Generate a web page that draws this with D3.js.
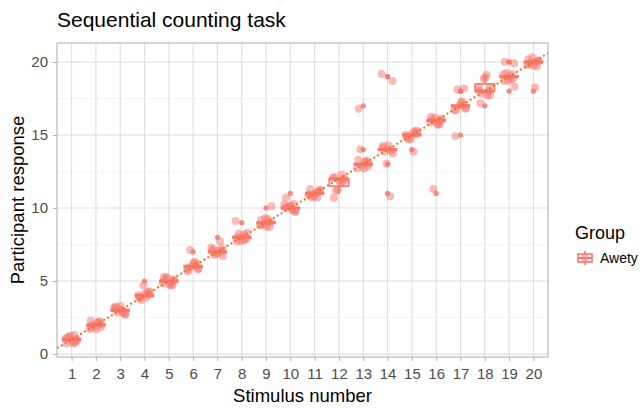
<!DOCTYPE html>
<html lang="en">
<head>
  <meta charset="UTF-8">
  <title>Sequential counting task</title>
  <script src="https://d3js.org/d3.v7.min.js"></script>
</head>
<body style="margin: 0; overflow: hidden; background: #fff;">

<script>
  // stimulus numbers shown on the x axis
  const stimuli = d3.range(1, 21);

  // participant responses per stimulus (11 participants each)
  const responses = [
    [1, 1, 1, 1, 1, 1, 1, 1, 1, 1, 1],
    [2, 2, 2, 2, 2, 2, 2, 2, 2, 2, 2],
    [3, 3, 3, 3, 3, 3, 3, 3, 3, 3, 3],
    [4, 4, 4, 4, 5, 4, 4, 4, 4, 4, 4],
    [5, 5, 5, 5, 5, 5, 5, 5, 5, 5, 5],
    [6, 6, 7, 6, 6, 6, 6, 6, 6, 6, 6],
    [7, 7, 7, 8, 7, 7, 7, 7, 7, 7, 7],
    [8, 8, 8, 8, 8, 9, 8, 8, 8, 8, 8],
    [9, 10, 9, 9, 9, 9, 9, 9, 9, 9, 9],
    [10, 10, 10, 10, 10, 10, 11, 10, 10, 10, 10],
    [11, 11, 11, 11, 11, 11, 11, 11, 11, 11, 11],
    [12, 12, 11, 12, 12, 12, 11, 12, 12, 11, 12],
    [13, 13, 13, 14, 13, 13, 13, 13, 17, 13, 13],
    [14, 19, 14, 14, 11, 14, 14, 13, 14, 19, 14],
    [15, 15, 15, 15, 15, 15, 15, 14, 15, 15, 15],
    [16, 16, 16, 16, 16, 11, 16, 16, 16, 16, 16],
    [17, 17, 18, 17, 17, 15, 17, 17, 18, 17, 17],
    [18, 19, 18, 18, 17, 18, 19, 18, 18, 19, 18],
    [19, 20, 19, 19, 18, 19, 19, 19, 20, 19, 19],
    [20, 20, 20, 18, 20, 20, 20, 20, 20, 20, 20]
  ];

  // fixed jitter offsets (x, y) in data units, reused round the groups
  const jitterX = [-0.18, 0.15, -0.04, 0.22, -0.25, 0.07, -0.12, 0.2, 0.02, -0.21, 0.11];
  const jitterY = [0.12, -0.2, 0.25, -0.08, 0.05, -0.28, 0.18, 0.02, -0.15, -0.3, 0.3];

  const yTicks = [0, 5, 10, 15, 20];
  const yMinor = [2.5, 7.5, 12.5, 17.5];

  const groupName = 'Awety';
  const colour = '#F8766D';
  const lineColour = '#E8761E';

  const width = 643, height = 408;
  const panel = { left: 57, right: 548, top: 43, bottom: 357 };

  const svg = d3.select('body').append('svg')
    .attr('width', width)
    .attr('height', height)
    .style('font-family', 'Liberation Sans, Arial, sans-serif');

  const x = d3.scaleLinear().domain([0.4, 20.6]).range([panel.left, panel.right]);
  const y = d3.scaleLinear().domain([-0.2, 21.3]).range([panel.bottom, panel.top]);

  //Title
  svg.append('text')
    .attr('x', panel.left)
    .attr('y', 27)
    .attr('font-size', 21)
    .attr('fill', '#000')
    .text('Sequential counting task');

  //Grid lines
  const grid = svg.append('g');
  grid.selectAll('.minor').data(yMinor).join('line')
    .attr('x1', panel.left).attr('x2', panel.right)
    .attr('y1', d => y(d)).attr('y2', d => y(d))
    .attr('stroke', '#efefef').attr('stroke-width', 0.6);
  grid.selectAll('.majorY').data(yTicks).join('line')
    .attr('x1', panel.left).attr('x2', panel.right)
    .attr('y1', d => y(d)).attr('y2', d => y(d))
    .attr('stroke', '#dedede').attr('stroke-width', 1.1);
  grid.selectAll('.majorX').data(stimuli).join('line')
    .attr('y1', panel.top).attr('y2', panel.bottom)
    .attr('x1', d => x(d)).attr('x2', d => x(d))
    .attr('stroke', '#dedede').attr('stroke-width', 1.1);

  //Axes
  const xAxis = svg.append('g')
    .attr('transform', `translate(0,${panel.bottom})`)
    .call(d3.axisBottom(x).tickValues(stimuli).tickSize(4).tickPadding(7).tickFormat(d3.format('d')));
  const yAxis = svg.append('g')
    .attr('transform', `translate(${panel.left},0)`)
    .call(d3.axisLeft(y).tickValues(yTicks).tickSize(4).tickPadding(5));
  [xAxis, yAxis].forEach(a => {
    a.select('.domain').remove();
    a.selectAll('line').attr('stroke', '#b3b3b3');
    a.selectAll('text').attr('fill', '#4d4d4d').attr('font-size', 15)
      .style('font-family', 'Liberation Sans, Arial, sans-serif');
  });

  //Axis titles
  svg.append('text')
    .attr('x', (panel.left + panel.right) / 2)
    .attr('y', 402)
    .attr('text-anchor', 'middle')
    .attr('font-size', 18.5)
    .text('Stimulus number');
  svg.append('text')
    .attr('transform', `translate(24,${(panel.top + panel.bottom) / 2}) rotate(-90)`)
    .attr('text-anchor', 'middle')
    .attr('font-size', 18.5)
    .text('Participant response');

  svg.append('clipPath').attr('id', 'panel-clip')
    .append('rect')
    .attr('x', panel.left).attr('y', panel.top)
    .attr('width', panel.right - panel.left).attr('height', panel.bottom - panel.top);

  const plot = svg.append('g').attr('clip-path', 'url(#panel-clip)');

  //Boxplot stats (R type 7 quantiles, whiskers at 1.5 IQR)
  const boxes = stimuli.map((s, i) => {
    const v = responses[i].slice().sort(d3.ascending);
    const q1 = d3.quantile(v, 0.25), med = d3.quantile(v, 0.5), q3 = d3.quantile(v, 0.75);
    const iqr = q3 - q1;
    const inside = v.filter(d => d >= q1 - 1.5 * iqr && d <= q3 + 1.5 * iqr);
    return {
      s, q1, med, q3,
      lo: d3.min(inside), hi: d3.max(inside),
      out: v.filter(d => d < q1 - 1.5 * iqr || d > q3 + 1.5 * iqr)
    };
  });

  const boxHalf = 0.4;
  const bg = plot.selectAll('.box').data(boxes).join('g');
  bg.append('line')
    .attr('x1', d => x(d.s)).attr('x2', d => x(d.s))
    .attr('y1', d => y(d.hi)).attr('y2', d => y(d.q3))
    .attr('stroke', colour).attr('stroke-width', 1.6);
  bg.append('line')
    .attr('x1', d => x(d.s)).attr('x2', d => x(d.s))
    .attr('y1', d => y(d.q1)).attr('y2', d => y(d.lo))
    .attr('stroke', colour).attr('stroke-width', 1.6);
  bg.append('rect')
    .attr('x', d => x(d.s - boxHalf))
    .attr('width', d => x(d.s + boxHalf) - x(d.s - boxHalf))
    .attr('y', d => y(d.q3))
    .attr('height', d => Math.max(0, y(d.q1) - y(d.q3)))
    .attr('fill', '#fff').attr('stroke', colour).attr('stroke-width', 1.6);
  bg.append('line')
    .attr('x1', d => x(d.s - boxHalf)).attr('x2', d => x(d.s + boxHalf))
    .attr('y1', d => y(d.med)).attr('y2', d => y(d.med))
    .attr('stroke', colour).attr('stroke-width', 3.2);
  bg.selectAll('.out').data(d => d.out.map(v => ({ s: d.s, v }))).join('circle')
    .attr('cx', d => x(d.s)).attr('cy', d => y(d.v))
    .attr('r', 2.6).attr('fill', colour).attr('opacity', 0.85);

  //Jittered points
  const pts = [];
  stimuli.forEach((s, i) => {
    responses[i].forEach((v, j) => {
      const k = (j + i * 3) % jitterX.length;
      pts.push({ s, v, dx: jitterX[k], dy: jitterY[(k + i) % jitterY.length] });
    });
  });
  plot.selectAll('.pt').data(pts).join('circle')
    .attr('cx', d => x(d.s + d.dx))
    .attr('cy', d => y(d.v + d.dy))
    .attr('r', 4)
    .attr('fill', colour)
    .attr('opacity', 0.5);

  //Identity line
  plot.append('line')
    .attr('x1', x(0.4)).attr('y1', y(0.4))
    .attr('x2', x(21.3)).attr('y2', y(21.3))
    .attr('stroke', lineColour)
    .attr('stroke-width', 2)
    .attr('stroke-dasharray', '2,2.5');

  //Panel border
  svg.append('rect')
    .attr('x', panel.left).attr('y', panel.top)
    .attr('width', panel.right - panel.left).attr('height', panel.bottom - panel.top)
    .attr('fill', 'none').attr('stroke', '#b3b3b3').attr('stroke-width', 1.1);

  //Legend
  const legend = svg.append('g').attr('transform', 'translate(575,0)');
  legend.append('text')
    .attr('x', 0).attr('y', 239)
    .attr('font-size', 18)
    .text('Group');
  const key = legend.append('g').attr('transform', 'translate(10,258)');
  key.append('line').attr('x1', 0).attr('x2', 0).attr('y1', -7).attr('y2', 7)
    .attr('stroke', colour).attr('stroke-width', 1.6);
  key.append('rect').attr('x', -7).attr('y', -4).attr('width', 14).attr('height', 8)
    .attr('fill', '#fff').attr('stroke', colour).attr('stroke-width', 1.6);
  key.append('line').attr('x1', -7).attr('x2', 7).attr('y1', 0).attr('y2', 0)
    .attr('stroke', colour).attr('stroke-width', 2);
  key.append('circle').attr('r', 4).attr('fill', colour).attr('opacity', 0.5);
  legend.append('text')
    .attr('x', 25).attr('y', 263)
    .attr('font-size', 14)
    .attr('fill', '#000')
    .text(groupName);
</script>

</body>
</html>
